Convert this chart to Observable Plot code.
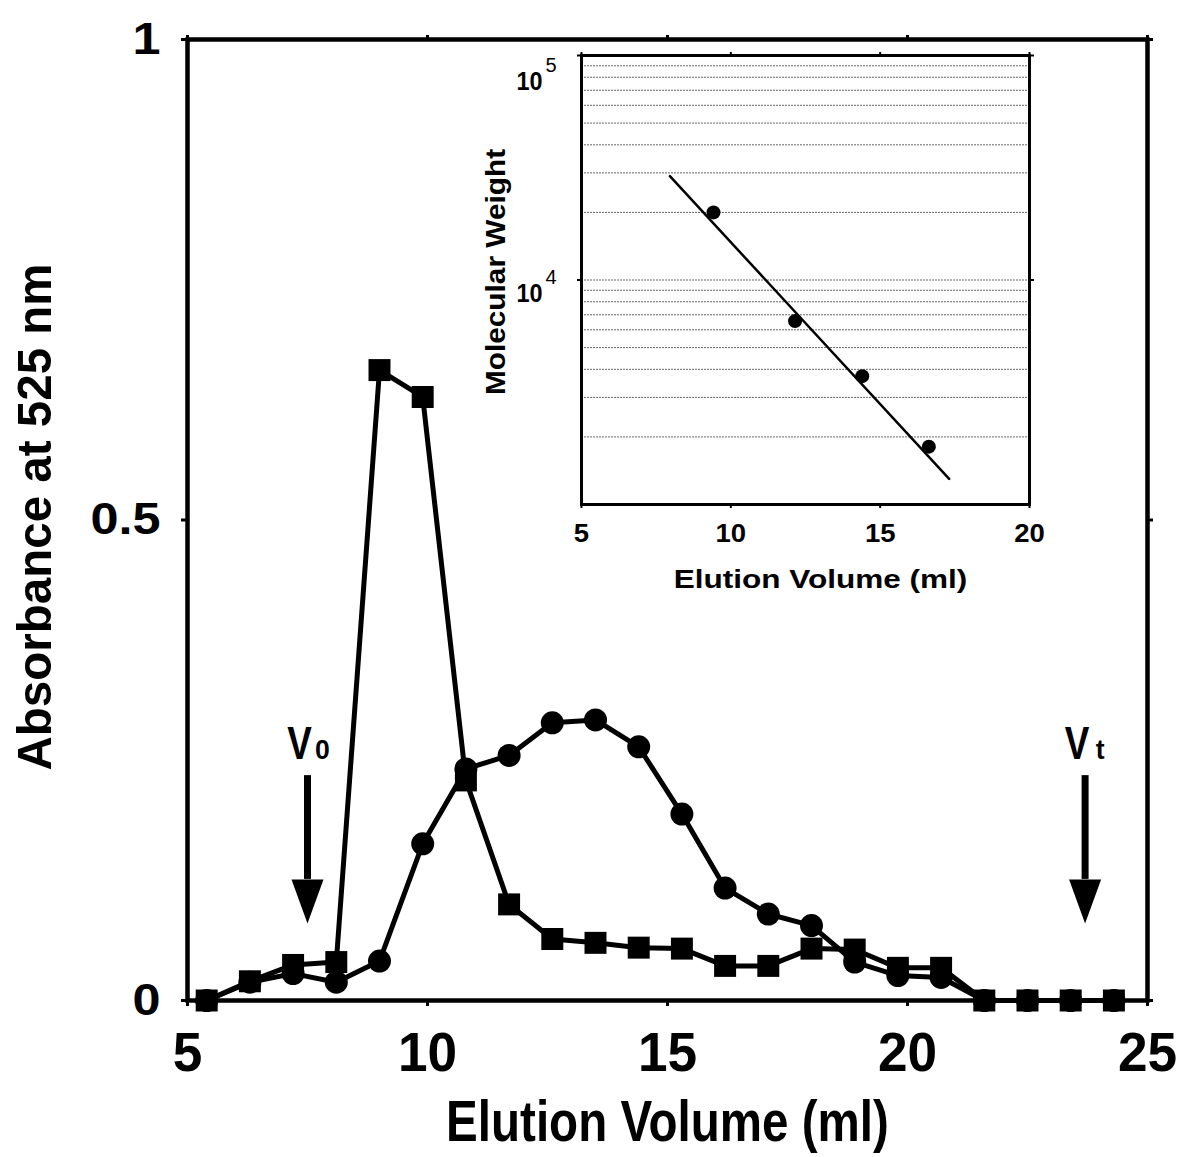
<!DOCTYPE html>
<html>
<head>
<meta charset="utf-8">
<script src="https://cdn.jsdelivr.net/npm/d3@7"></script>
<script src="https://cdn.jsdelivr.net/npm/@observablehq/plot@0.6"></script>
<style>
  html, body { margin: 0; padding: 0; background: white; }
  #wrap { position: relative; width: 1184px; height: 1157px; }
  #wrap svg { position: absolute; background: transparent; }
</style>
</head>
<body>
<div id="wrap"></div>
<script>
// ---- Main chromatogram data ----
const fractionVol = [5.4, 6.3, 7.2, 8.1, 9.0, 9.9, 10.8, 11.7, 12.6, 13.5, 14.4, 15.3, 16.2, 17.1, 18.0, 18.9, 19.8, 20.7, 21.6, 22.5, 23.4, 24.3];
const squareAbs = [0, 0.020, 0.037, 0.040, 0.656, 0.628, 0.229, 0.100, 0.064, 0.060, 0.055, 0.054, 0.036, 0.036, 0.054, 0.053, 0.034, 0.034, 0, 0, 0, 0];
const circleAbs = [0, 0.019, 0.028, 0.019, 0.041, 0.163, 0.241, 0.255, 0.289, 0.292, 0.264, 0.194, 0.117, 0.090, 0.078, 0.040, 0.026, 0.024, 0, 0, 0, 0];

const xTicks = [5, 10, 15, 20, 25];
const yTicks = [0, 0.5, 1];

// Arrow annotations (V0 void volume, Vt total volume)
const arrowVol = [7.5, 23.7];
const arrowMain = ["V", "V"];
const arrowSub = ["0", "t"];
const arrowTop = [0.234, 0.234];
const arrowHeadTop = [0.126, 0.126];
const arrowTip = [0.08, 0.08];

// ---- Inset calibration data ----
const insetVol = [9.42, 12.15, 14.40, 16.63];
const insetMW = [20000, 6560, 3730, 1810];
const fitVol = [7.96, 17.31];
const fitMW = [29000, 1300];
const insetXTicks = [5, 10, 15, 20];
const insetMajor = [10000, 100000];
const insetMajorExp = ["4", "5"];
const insetGrid = [2000, 3000, 4000, 5000, 6000, 7000, 8000, 9000, 10000, 20000, 30000, 40000, 50000, 60000, 70000, 80000, 90000];

const squares = fractionVol.map((v, i) => ({v, a: squareAbs[i]}));
const circles = fractionVol.map((v, i) => ({v, a: circleAbs[i]}));
const arrows = arrowVol.map((v, i) => ({v, main: arrowMain[i], sub: arrowSub[i], top: arrowTop[i], head: arrowHeadTop[i], tip: arrowTip[i]}));
const inset = insetVol.map((v, i) => ({v, mw: insetMW[i]}));
const fit = fitVol.map((v, i) => ({v, mw: fitMW[i]}));
const majors = insetMajor.map((m, i) => ({m, exp: insetMajorExp[i]}));

const SANS = "'Liberation Sans', Arial, Helvetica, sans-serif";
const sx = k => () => "sx:" + k;   // horizontal text squeeze marker

const arrowHead = {
  draw(ctx) {
    ctx.moveTo(0, 0);
    ctx.lineTo(-16, -44);
    ctx.lineTo(16, -44);
    ctx.closePath();
  }
};

const main = Plot.plot({
  width: 1184,
  height: 1157,
  marginLeft: 187,
  marginRight: 37,
  marginTop: 39,
  marginBottom: 157,
  style: {background: "transparent", color: "black", fontFamily: SANS},
  x: {domain: [5, 25]},
  y: {domain: [0, 1]},
  marks: [
    Plot.frame({stroke: "black", strokeWidth: 4.5}),
    Plot.axisX({anchor: "bottom", ticks: xTicks, tickSize: 6, strokeWidth: 3, tickPadding: 25, fontSize: 56, fontWeight: "bold", label: null, tickFormat: d => String(d)}),
    Plot.axisX({anchor: "top", ticks: xTicks, tickSize: 5, strokeWidth: 3, tickFormat: () => "", label: null}),
    Plot.axisY({anchor: "left", ticks: yTicks, tickSize: 6, strokeWidth: 3, tickPadding: 21, fontSize: 45, fontWeight: "900", label: null, tickFormat: d => String(d)}),
    Plot.axisY({anchor: "right", ticks: yTicks, tickSize: 5, strokeWidth: 3, tickFormat: () => "", label: null}),
    Plot.text(["Absorbance at 525 nm"], {frameAnchor: "left", textAnchor: "middle", lineAnchor: "bottom", dx: -137, dy: -3, rotate: -90, fontSize: 49, fontWeight: "bold", fill: "black", ariaLabel: sx(0.97)}),
    Plot.text(["Elution Volume (ml)"], {frameAnchor: "bottom", textAnchor: "middle", lineAnchor: "bottom", dy: 140, fontSize: 58, fontWeight: "bold", fill: "black", ariaLabel: sx(0.82)}),
    // circles series
    Plot.line(circles, {x: "v", y: "a", stroke: "black", strokeWidth: 5, strokeLinejoin: "round"}),
    Plot.dot(circles, {x: "v", y: "a", symbol: "circle", r: 11.5, fill: "black", stroke: "none"}),
    // squares series
    Plot.line(squares, {x: "v", y: "a", stroke: "black", strokeWidth: 5, strokeLinejoin: "round"}),
    Plot.dot(squares, {x: "v", y: "a", symbol: "square", r: 12.4, fill: "black", stroke: "none"}),
    // arrows
    Plot.ruleX(arrows, {x: "v", y1: "top", y2: "head", stroke: "black", strokeWidth: 7}),
    Plot.dot(arrows, {x: "v", y: "tip", symbol: arrowHead, fill: "black", stroke: "none"}),
    Plot.text(arrows, {x: "v", y: "top", text: "main", dx: -8, dy: -17, lineAnchor: "bottom", fontSize: 46, fontWeight: "bold", fill: "black", ariaLabel: sx(0.8)}),
    Plot.text(arrows, {x: "v", y: "top", text: "sub", dx: 15, dy: -17, lineAnchor: "bottom", fontSize: 28, fontWeight: "bold", fill: "black", ariaLabel: sx(0.95)})
  ]
});
main.style.left = "0px";
main.style.top = "0px";

const insetPlot = Plot.plot({
  width: 580,
  height: 580,
  marginLeft: 111,
  marginRight: 21,
  marginTop: 25,
  marginBottom: 106,
  style: {background: "transparent", color: "black", fontFamily: SANS},
  x: {domain: [5, 20]},
  y: {type: "log", domain: [1000, 100000]},
  marks: [
    Plot.ruleY(insetGrid, {stroke: "#666", strokeWidth: 1, strokeDasharray: "2,1"}),
    Plot.frame({stroke: "black", strokeWidth: 3}),
    Plot.axisX({anchor: "bottom", ticks: insetXTicks, tickSize: 4, strokeWidth: 2, tickPadding: 16, fontSize: 25, fontWeight: "bold", label: null, tickFormat: d => String(d)}),
    Plot.axisX({anchor: "top", ticks: insetXTicks, tickSize: 4, strokeWidth: 2, tickFormat: () => "", label: null}),
    Plot.axisY({anchor: "left", ticks: insetMajor, tickSize: 4, strokeWidth: 2, tickFormat: () => "", label: null}),
    Plot.axisY({anchor: "right", ticks: insetMajor, tickSize: 4, strokeWidth: 2, tickFormat: () => "", label: null}),
    // 10^4
    Plot.text(majors.slice(0, 1), {y: "m", text: () => "10", frameAnchor: "left", textAnchor: "end", lineAnchor: "bottom", dx: -39, dy: 22, fontSize: 26, fontWeight: "bold", fill: "black", ariaLabel: sx(0.9)}),
    Plot.text(majors.slice(0, 1), {y: "m", text: "exp", frameAnchor: "left", textAnchor: "start", lineAnchor: "bottom", dx: -36, dy: 4, fontSize: 20, fill: "black"}),
    // 10^5
    Plot.text(majors.slice(1), {y: "m", text: () => "10", frameAnchor: "left", textAnchor: "end", lineAnchor: "bottom", dx: -39, dy: 34, fontSize: 26, fontWeight: "bold", fill: "black", ariaLabel: sx(0.9)}),
    Plot.text(majors.slice(1), {y: "m", text: "exp", frameAnchor: "left", textAnchor: "start", lineAnchor: "bottom", dx: -36, dy: 16, fontSize: 20, fill: "black"}),
    Plot.text(["Molecular Weight"], {frameAnchor: "left", textAnchor: "middle", lineAnchor: "bottom", dx: -77, dy: -8, rotate: -90, fontSize: 28, fontWeight: "bold", fill: "black", ariaLabel: sx(1.065)}),
    Plot.text(["Elution Volume (ml)"], {frameAnchor: "bottom", textAnchor: "middle", lineAnchor: "bottom", dx: 15, dy: 83, fontSize: 26.5, fontWeight: "bold", fill: "black", ariaLabel: sx(1.19)}),
    Plot.line(fit, {x: "v", y: "mw", stroke: "black", strokeWidth: 2.5}),
    Plot.dot(inset, {x: "v", y: "mw", r: 7, fill: "black", stroke: "none"})
  ]
});
insetPlot.style.left = "470px";
insetPlot.style.top = "30px";

function squeezeText(el, k) {
  const t = el.getAttribute("transform") || "";
  el.setAttribute("transform", t + ` scale(${k},1)`);
}
function squeezeGroup(svg, label, k) {
  d3.select(svg).selectAll(`g[aria-label="${label}"] text`).each(function() { squeezeText(this, k); });
}
function squeezeMarked(svg) {
  d3.select(svg).selectAll("text[aria-label^='sx:']").each(function() {
    const k = +this.getAttribute("aria-label").slice(3);
    squeezeText(this, k);
    this.setAttribute("aria-label", this.textContent);
  });
}
squeezeGroup(main, "x-axis tick label", 0.95);
squeezeGroup(main, "y-axis tick label", 1.12);
squeezeGroup(insetPlot, "x-axis tick label", 1.1);
squeezeMarked(main);
squeezeMarked(insetPlot);

const wrap = document.getElementById("wrap");
wrap.appendChild(main);
wrap.appendChild(insetPlot);
</script>
</body>
</html>
